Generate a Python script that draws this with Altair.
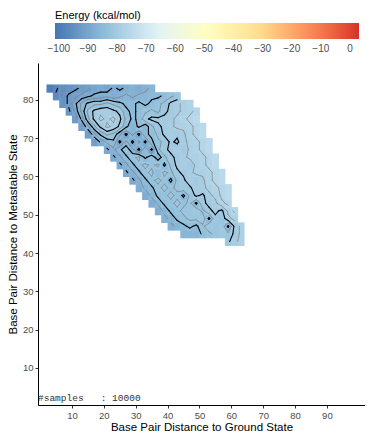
import altair as alt
import numpy as np
import pandas as pd

# ---- data: energy landscape (kcal/mol) on a 2-unit grid ----
# each row: y centre, first x centre, energies left -> right (x step 2)
row_y = [83, 81, 79, 77, 75, 73, 71, 69, 67, 65, 63, 61, 59, 57, 55, 53, 51, 49, 47, 45, 43]
row_x0 = [3, 5, 7, 9, 11, 13, 15, 17, 21, 23, 25, 27, 29, 31, 33, 35, 37, 39, 41, 45, 59]
row_energy = [
    [-99, -97, -95, -94, -93, -92, -91, -90, -89, -90, -88, -89, -88, -87, -88, -87, -86],
    [-96, -94, -92, -91, -90, -89, -88, -88, -87, -88, -87, -86, -87, -86, -86, -85, -85, -84, -83, -82],
    [-94, -92, -89, -86, -84, -83, -83, -82, -83, -84, -85, -85, -84, -85, -84, -83, -82, -80, -79, -78, -77],
    [-93, -90, -86, -82, -80, -79, -79, -80, -81, -84, -85, -84, -83, -82, -83, -81, -80, -79, -78, -77, -76],
    [-92, -88, -83, -80, -78, -79, -78, -80, -83, -85, -84, -81, -80, -80, -80, -79, -78, -77, -76, -75],
    [-91, -87, -83, -80, -78, -79, -81, -84, -86, -84, -86, -83, -81, -80, -79, -78, -78, -77, -76, -75],
    [-91, -87, -84, -82, -83, -86, -89, -86, -89, -85, -84, -82, -80, -79, -80, -79, -77, -76, -75],
    [-91, -88, -86, -85, -89, -86, -89, -86, -89, -85, -83, -82, -80, -81, -79, -78, -77, -76, -75],
    [-89, -87, -85, -83, -86, -89, -85, -89, -83, -81, -80, -79, -80, -78, -77, -76, -75],
    [-89, -87, -85, -83, -82, -85, -83, -86, -83, -81, -80, -79, -78, -78, -77, -76, -75],
    [-89, -87, -85, -83, -82, -83, -82, -85, -82, -80, -79, -80, -78, -77, -76, -75],
    [-89, -87, -85, -83, -82, -84, -82, -83, -81, -80, -79, -78, -78, -77, -76, -75],
    [-89, -87, -85, -83, -82, -83, -85, -82, -81, -79, -80, -79, -77, -76, -75],
    [-88, -86, -85, -83, -82, -83, -82, -81, -81, -79, -79, -78, -77, -76, -75],
    [-88, -86, -84, -83, -82, -83, -85, -82, -80, -81, -79, -78, -76, -75],
    [-88, -86, -84, -83, -82, -83, -82, -85, -81, -80, -79, -77, -76],
    [-88, -86, -84, -83, -82, -82, -81, -83, -81, -80, -81, -78, -76],
    [-87, -86, -84, -83, -82, -82, -81, -85, -81, -82, -79, -78],
    [-87, -86, -85, -84, -85, -83, -81, -82, -81, -85, -80, -78],
    [-86, -86, -86, -84, -83, -82, -81, -82, -80, -78],
    [-81, -79, -78],
]
major_levels = [-96.5, -92.5, -88.5, -84.5, -80.5]
minor_levels = [-94.5, -90.5, -86.5, -82.5, -78.5, -76.5]
legend_values = [-100, -90, -80, -70, -60, -50, -40, -30, -20, -10, 0]
x_ticks = [10, 20, 30, 40, 50, 60, 70, 80, 90]
y_ticks = [10, 20, 30, 40, 50, 60, 70, 80]
energy_domain = [-101.3, 3.1]
palette = ["#4575b4", "#91bfdb", "#e0f3f8", "#ffffbf", "#fee090", "#fc8d59", "#d73027"]
sample_note = "#samples\u00a0\u00a0\u00a0: 10000"

# ---- build grid ----
xs = np.arange(1, 66, 2)
ys = np.arange(43, 84, 2)
grid = np.full((len(ys), len(xs)), np.nan)
for yc, x0, vals in zip(row_y, row_x0, row_energy):
    j = (yc - 43) // 2
    i0 = (x0 - 1) // 2
    grid[j, i0:i0 + len(vals)] = vals

seam = 0.15  # tiny overlap so neighbouring cells leave no hairline gaps
cells = []
for j, yc in enumerate(ys):
    for i, xc in enumerate(xs):
        if not np.isnan(grid[j, i]):
            cells.append({"x": xc - 1, "x2": xc + 1 + seam, "y": yc - 1 - seam, "y2": yc + 1,
                          "E": grid[j, i]})
cells = pd.DataFrame(cells)


def contour_segments(level):
    segs = []
    ny, nx = grid.shape
    for j in range(ny - 1):
        for i in range(nx - 1):
            a, b = grid[j, i], grid[j, i + 1]
            c, d = grid[j + 1, i + 1], grid[j + 1, i]
            if np.isnan([a, b, c, d]).any():
                continue
            pa, pb = (xs[i], ys[j]), (xs[i + 1], ys[j])
            pc, pd_ = (xs[i + 1], ys[j + 1]), (xs[i], ys[j + 1])

            def cross(p1, v1, p2, v2):
                t = (level - v1) / (v2 - v1)
                return (p1[0] + t * (p2[0] - p1[0]), p1[1] + t * (p2[1] - p1[1]))

            up = [a > level, b > level, c > level, d > level]
            e = {}
            if up[0] != up[1]:
                e["ab"] = cross(pa, a, pb, b)
            if up[1] != up[2]:
                e["bc"] = cross(pb, b, pc, c)
            if up[2] != up[3]:
                e["cd"] = cross(pc, c, pd_, d)
            if up[3] != up[0]:
                e["da"] = cross(pd_, d, pa, a)
            if len(e) == 2:
                p, q = list(e.values())
                segs.append((p, q))
            elif len(e) == 4:
                centre = (a + b + c + d) / 4 > level
                if centre == up[0]:
                    segs += [(e["ab"], e["bc"]), (e["cd"], e["da"])]
                else:
                    segs += [(e["ab"], e["da"]), (e["bc"], e["cd"])]
    return segs


def seg_frame(levels):
    rows = []
    for L in levels:
        for p, q in contour_segments(L):
            rows.append({"x": p[0], "y": p[1], "x2": q[0], "y2": q[1]})
    return pd.DataFrame(rows)


major = seg_frame(major_levels)
minor = seg_frame(minor_levels)

W, H = 327, 342
xscale = alt.Scale(domain=[-0.66, 101.96], nice=False, zero=False)
yscale = alt.Scale(domain=[0.34, 89.6], nice=False, zero=False)
cscale = alt.Scale(domain=energy_domain, range=palette, interpolate="lab")

xaxis = alt.Axis(values=x_ticks, title="Base Pair Distance to Ground State", grid=False,
                 domainColor="black", domainWidth=1, tickColor="#333333", tickSize=3,
                 labelColor="#4d4d4d", labelFontSize=9.5, labelPadding=2,
                 titleFontSize=11.5, titleFontWeight="normal", titleColor="black",
                 titleBaseline="alphabetic", titleY=25)
yaxis = alt.Axis(values=y_ticks, title="Base Pair Distance to Metastable State", grid=False,
                 domainColor="black", domainWidth=1, tickColor="#333333", tickSize=3,
                 labelColor="#4d4d4d", labelFontSize=9.5, labelPadding=2,
                 titleFontSize=11.5, titleFontWeight="normal", titleColor="black",
                 titlePadding=4)

heat = alt.Chart(cells).mark_rect().encode(
    x=alt.X("x:Q", scale=xscale, axis=xaxis),
    x2="x2:Q",
    y=alt.Y("y:Q", scale=yscale, axis=yaxis),
    y2="y2:Q",
    color=alt.Color("E:Q", scale=cscale, legend=alt.Legend(
        type="gradient",
        title="Energy (kcal/mol)", orient="none", direction="horizontal",
        legendX=17, legendY=-53, gradientLength=304, gradientThickness=16,
        values=legend_values, titleFontSize=11, titleFontWeight="normal",
        titleColor="black", labelFontSize=10, labelColor="#4d4d4d",
        titlePadding=2, labelOverlap=False, gradientStrokeWidth=0,
        titleAnchor="start", titleOrient="top", labelOffset=5)),
)

minor_lines = alt.Chart(minor).mark_rule(color="#808080", strokeWidth=0.7, strokeCap="round").encode(
    x=alt.X("x:Q", scale=xscale), y=alt.Y("y:Q", scale=yscale), x2="x2:Q", y2="y2:Q")
major_lines = alt.Chart(major).mark_rule(color="black", strokeWidth=1.1, strokeCap="round").encode(
    x=alt.X("x:Q", scale=xscale), y=alt.Y("y:Q", scale=yscale), x2="x2:Q", y2="y2:Q")

note = alt.Chart(pd.DataFrame({"t": [sample_note]})).mark_text(
    align="left", baseline="middle", font="Liberation Mono", fontSize=9.5, color="#333333"
).encode(text="t:N", x=alt.value(0), y=alt.value(H - 7.5))

chart = alt.layer(heat, minor_lines, major_lines, note).properties(
    width=W, height=H,
    autosize=alt.AutoSizeParams(type="none"),
    padding={"left": 30, "top": 55, "right": 0, "bottom": 27},
).configure(font="Liberation Sans").configure_view(stroke=None)

chart.save("out.html", embed_options={"renderer": "svg", "actions": False})
